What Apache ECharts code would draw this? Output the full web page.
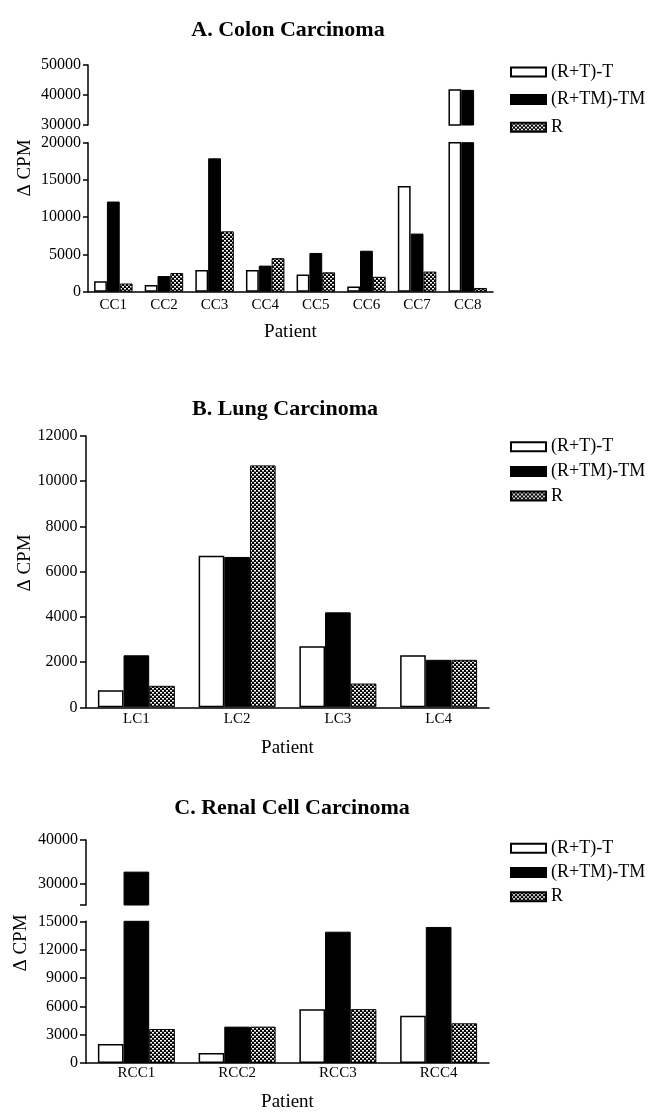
<!DOCTYPE html>
<html>
<head>
<meta charset="utf-8">
<script src="https://cdn.jsdelivr.net/npm/echarts@6/dist/echarts.min.js"></script>
<style>
html,body{margin:0;padding:0;background:#fff;}
#chart{width:654px;height:1113px;}
</style>
</head>
<body>
<div id="chart"></div>
<script>
// ---- Data ----
var seriesNames = ['(R+T)-T', '(R+TM)-TM', 'R'];

var ccCats = ['CC1', 'CC2', 'CC3', 'CC4', 'CC5', 'CC6', 'CC7', 'CC8'];
var ccRT  = [1400, 900, 2900, 2900, 2300, 700, 14200, 41900];
var ccRTM = [12100, 2100, 17900, 3500, 5200, 5500, 7800, 41700];
var ccR   = [1100, 2500, 8100, 4500, 2600, 2000, 2700, 500];

var lcCats = ['LC1', 'LC2', 'LC3', 'LC4'];
var lcRT  = [750, 6700, 2700, 2300];
var lcRTM = [2300, 6650, 4200, 2100];
var lcR   = [950, 10700, 1050, 2100];

var rccCats = ['RCC1', 'RCC2', 'RCC3', 'RCC4'];
var rccRT  = [2000, 1050, 5700, 5000];
var rccRTM = [32700, 3850, 13900, 14400];
var rccR   = [3600, 3850, 5700, 4200];

var titles = ['A. Colon Carcinoma', 'B. Lung Carcinoma', 'C. Renal Cell Carcinoma'];

// ---- Styles ----
var FONT = '"Liberation Serif", "Times New Roman", serif';

var pat = document.createElement('canvas');
pat.width = 4; pat.height = 4;
var pc = pat.getContext('2d');
pc.fillStyle = '#000'; pc.fillRect(0, 0, 4, 4);
pc.fillStyle = '#fff';
pc.fillRect(0, 0, 2, 1);
pc.fillRect(2, 2, 2, 1);
pc.fillStyle = '#888';
pc.fillRect(0, 1, 2, 1);
pc.fillRect(2, 3, 2, 1);

var styles = [
  {color: '#fff', borderColor: '#000', borderWidth: 1.5},
  {color: '#000', borderColor: '#000', borderWidth: 1},
  {color: {image: pat, repeat: 'repeat'}, borderColor: '#000', borderWidth: 1}
];

function yAx(gi, min, max, interval, tickLen, margin, extra) {
  var a = {
    type: 'value', gridIndex: gi, min: min, max: max, interval: interval,
    axisLine: {show: true, lineStyle: {color: '#000', width: 1.5}},
    axisTick: {show: true, length: tickLen, lineStyle: {color: '#000', width: 1.5}},
    axisLabel: {color: '#000', fontFamily: FONT, fontSize: 16, margin: margin,
      formatter: function (v) { return String(v); }},
    splitLine: {show: false}
  };
  if (extra) {
    for (var k in extra) {
      if (typeof extra[k] === 'object' && a[k]) { Object.assign(a[k], extra[k]); }
      else a[k] = extra[k];
    }
  }
  return a;
}

function xAx(gi, cats, visible, labelMargin, nameGap) {
  return {
    type: 'category', gridIndex: gi, data: cats, show: visible,
    axisLine: {show: true, onZero: false, lineStyle: {color: '#000', width: 1.5}},
    axisTick: {show: false},
    axisLabel: {color: '#000', fontFamily: FONT, fontSize: 15, margin: labelMargin},
    name: visible ? 'Patient' : '',
    nameLocation: 'middle', nameGap: nameGap,
    nameTextStyle: {color: '#000', fontFamily: FONT, fontSize: 19}
  };
}

var series = [];
function addBars(axisIdx, arrays, gap) {
  arrays.forEach(function (arr, i) {
    series.push({
      type: 'bar', name: seriesNames[i], data: arr,
      xAxisIndex: axisIdx, yAxisIndex: axisIdx,
      barGap: '0%', barCategoryGap: gap, clip: true,
      itemStyle: styles[i]
    });
  });
}
addBars(0, [ccRT, ccRTM, ccR], '24%');
addBars(1, [ccRT, ccRTM, ccR], '24%');
addBars(2, [lcRT, lcRTM, lcR], '23.6%');
addBars(3, [rccRT, rccRTM, rccR], '23.6%');
addBars(4, [rccRT, rccRTM, rccR], '23.6%');

function legend(top, gap) {
  return {
    orient: 'vertical', left: 505, top: top, itemGap: gap,
    itemWidth: 35, itemHeight: 9, icon: 'rect', selectedMode: false,
    data: seriesNames,
    textStyle: {color: '#000', fontFamily: FONT, fontSize: 18}
  };
}

function yName(x, y) {
  return {
    type: 'text', x: x, y: y, rotation: Math.PI / 2,
    style: {text: 'Δ CPM', font: '19px ' + FONT, fill: '#000',
      align: 'center', verticalAlign: 'middle'}
  };
}

function title(text, x, top) {
  return {text: text, left: x, top: top, textAlign: 'center',
    textStyle: {fontFamily: FONT, fontSize: 22, fontWeight: 'bold', color: '#000'}};
}

var option = {
  animation: false,
  backgroundColor: '#fff',
  title: [
    title(titles[0], 283, 14),
    title(titles[1], 280, 393.5),
    title(titles[2], 287, 792)
  ],
  legend: [legend(58, 9.6), legend(432.7, 6.7), legend(834.3, 6.2)],
  grid: [
    {left: 88, width: 405, top: 65, height: 60},
    {left: 88, width: 405, top: 142.7, height: 149},
    {left: 86, width: 403, top: 436, height: 271.3},
    {left: 86, width: 403, top: 840, height: 65},
    {left: 86, width: 403, top: 921.3, height: 144.4}
  ],
  xAxis: [
    xAx(0, ccCats, false, 5, 30),
    xAx(1, ccCats, true, 6, 30.5),
    xAx(2, lcCats, true, 4, 31.5),
    xAx(3, rccCats, false, 3, 30),
    xAx(4, rccCats, true, 3, 30)
  ],
  yAxis: [
    yAx(0, 30000, 50000, 10000, 5, 7),
    yAx(1, 0, 20000, 5000, 5, 7),
    yAx(2, 0, 12000, 2000, 6, 8.5),
    yAx(3, 25000, 40000, 5000, 6, 8, {
      axisTick: {customValues: [25000, 30000, 40000]},
      axisLabel: {customValues: [30000, 40000],
        formatter: function (v) { return (v === 30000 || v === 40000) ? String(v) : ''; }}
    }),
    yAx(4, 0, 15000, 3000, 6, 8)
  ],
  graphic: [yName(25, 168), yName(25, 563), yName(21, 943)],
  series: series
};

var chart = echarts.init(document.getElementById('chart'), null, {renderer: 'canvas'});
chart.setOption(option);
</script>
</body>
</html>
